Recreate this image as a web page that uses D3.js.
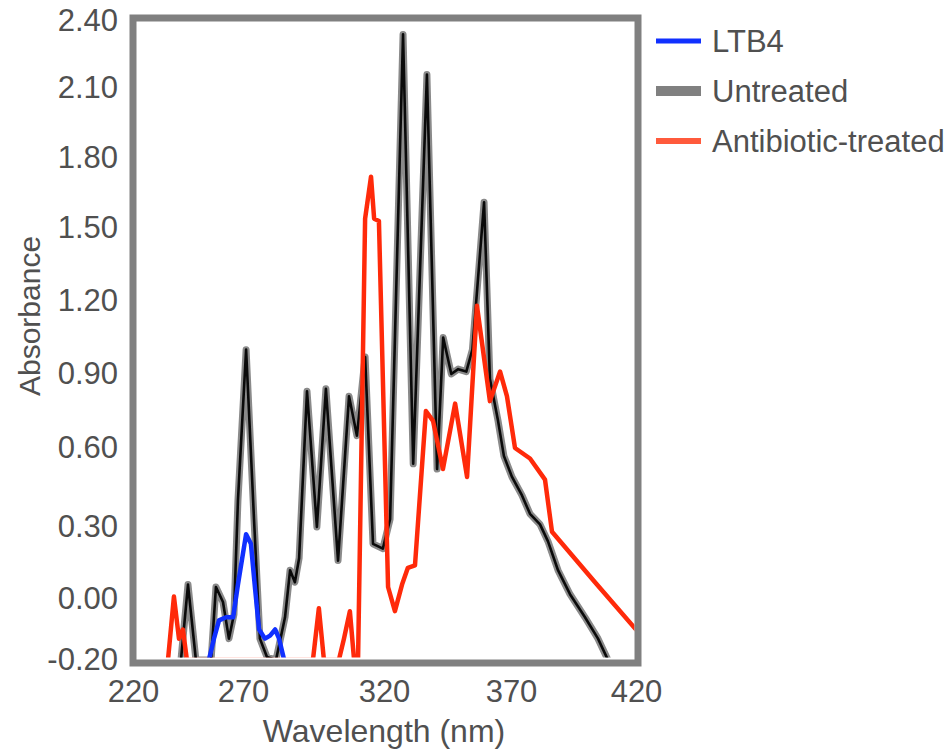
<!DOCTYPE html>
<html>
<head>
<meta charset="utf-8">
<script src="https://cdn.jsdelivr.net/npm/d3@7"></script>
<style>
  html, body { margin: 0; padding: 0; background: #ffffff; }
  svg { display: block; font-family: "Liberation Sans", Arial, sans-serif; }
</style>
</head>
<body>
<svg id="chart" width="945" height="750"></svg>
<script>
// Tick values for both axes
const wavelengthTicks = [220, 270, 320, 370, 420];
const absorbanceTicks = [-0.2, 0, 0.3, 0.6, 0.9, 1.2, 1.5, 1.8, 2.1, 2.4];

// Series names, in legend order
const seriesNames = ["LTB4", "Untreated", "Antibiotic-treated"];

// LTB4 spectrum
const ltb4Wavelength = [254.5, 256.8, 259.1, 262.3, 265.5, 267.7, 271.1, 272.8, 274.3, 275.7, 277.8, 279.6, 281.4, 282.8, 284.6];
const ltb4Absorbance = [-0.20, -0.13, -0.07, -0.06, -0.06, 0.06, 0.27, 0.23, 0.04, -0.10, -0.13, -0.12, -0.10, -0.13, -0.20];

// Untreated sample spectrum
const untreatedWavelength = [241.8, 245.0, 248.6, 255.5, 257.7, 260.9, 263.6, 265.9, 267.7, 271.1, 273.9, 276.0, 278.5, 281.7, 284.9, 286.7, 288.4, 289.9, 292.7, 296.2, 299.4, 303.7, 307.6, 310.4, 313.3, 316.1, 319.6, 322.4, 327.5, 331.5, 336.9, 340.9, 343.3, 346.5, 349.2, 352.4, 354.8, 359.4, 361.7, 364.9, 367.2, 370.4, 374.4, 377.6, 381.6, 384.8, 388.8, 393.6, 399.6, 404.8, 408.8];
const untreatedAbsorbance = [-0.20, 0.06, -0.20, -0.20, 0.05, -0.01, -0.13, -0.05, 0.40, 1.00, 0.33, -0.13, -0.19, -0.20, -0.06, 0.12, 0.07, 0.17, 0.83, 0.30, 0.84, 0.16, 0.81, 0.65, 0.97, 0.23, 0.21, 0.33, 2.34, 0.54, 2.16, 0.52, 1.05, 0.90, 0.92, 0.91, 1.00, 1.61, 0.88, 0.71, 0.57, 0.49, 0.42, 0.35, 0.31, 0.24, 0.12, 0.02, -0.06, -0.13, -0.20];

// Antibiotic-treated sample spectrum
const treatedWavelength = [235.9, 238.6, 240.9, 242.7, 244.5, 294.8, 296.9, 298.7, 304.0, 305.8, 307.9, 309.4, 310.8, 313.3, 315.4, 316.5, 318.2, 321.6, 324.3, 327.1, 329.4, 332.2, 336.5, 339.3, 343.2, 348.0, 352.7, 356.6, 361.7, 365.7, 368.4, 371.6, 377.6, 383.6, 386.4, 403.6, 420.0];
const treatedAbsorbance = [-0.20, 0.01, -0.13, -0.10, -0.20, -0.20, -0.03, -0.20, -0.20, -0.13, -0.04, -0.20, -0.20, 1.54, 1.72, 1.54, 1.53, 0.05, -0.04, 0.06, 0.13, 0.14, 0.75, 0.71, 0.52, 0.78, 0.49, 1.18, 0.79, 0.91, 0.81, 0.60, 0.56, 0.48, 0.28, 0.07, -0.10];

const svg = d3.select("#chart");

// Plot frame and tick anchor positions (pixels)
const frame = { left: 133, right: 638, top: 18, bottom: 663, stroke: 7 };
const xTickPx = [133, 243, 384, 511, 636];
const yTickPx = [660, 599, 527, 448, 374, 301, 228, 158, 88, 21];

const x = d3.scaleLinear().domain(wavelengthTicks).range(xTickPx);
const y = d3.scaleLinear().domain(absorbanceTicks).range(yTickPx);

const textColor = "#505050";
const fontSize = 31;

// Traces are clipped to the inside of the frame; the axis floor sits under the frame
const inner = frame.stroke / 2;
svg.append("defs").append("clipPath").attr("id", "plot-clip")
  .append("rect")
  .attr("x", frame.left + inner).attr("y", frame.top + inner)
  .attr("width", frame.right - frame.left - 2 * inner)
  .attr("height", y(-0.2) - 2.6 - (frame.top + inner));

const zip = (xs, ys) => xs.map((w, i) => ({ w, a: ys[i] }));

const series = [
  { name: seriesNames[1], data: zip(untreatedWavelength, untreatedAbsorbance), strokes: [["#8a8a8a", 7], ["#0a0a0a", 2.6]] },
  { name: seriesNames[2], data: zip(treatedWavelength, treatedAbsorbance), strokes: [["#ff2a0a", 4.5]] },
  { name: seriesNames[0], data: zip(ltb4Wavelength, ltb4Absorbance), strokes: [["#1030ff", 4.5]] }
];

const line = d3.line().x(d => x(d.w)).y(d => y(d.a));

const plot = svg.append("g").attr("clip-path", "url(#plot-clip)");
series.forEach(s => {
  s.strokes.forEach(([color, width]) => {
    plot.append("path")
      .datum(s.data)
      .attr("d", line)
      .attr("fill", "none")
      .attr("stroke", color)
      .attr("stroke-width", width)
      .attr("stroke-linejoin", "round")
      .attr("stroke-linecap", "round");
  });
});

// Frame around the plotting area
svg.append("rect")
  .attr("x", frame.left).attr("y", frame.top)
  .attr("width", frame.right - frame.left)
  .attr("height", frame.bottom - frame.top)
  .attr("fill", "none")
  .attr("stroke", "#808080")
  .attr("stroke-width", frame.stroke);

// Y axis
const yAxis = svg.append("g")
  .attr("transform", `translate(${frame.left},0)`)
  .call(d3.axisLeft(y).tickValues(absorbanceTicks).tickFormat(d => d.toFixed(2)).tickSize(0).tickPadding(15));
yAxis.select(".domain").remove();
yAxis.selectAll("text").attr("fill", textColor).attr("font-size", fontSize)
  .attr("font-family", "Liberation Sans, Arial, sans-serif");

// X axis
const xAxis = svg.append("g")
  .attr("transform", `translate(0,${y(-0.2)})`)
  .call(d3.axisBottom(x).tickValues(wavelengthTicks).tickFormat(d3.format("d")).tickSize(0).tickPadding(20));
xAxis.select(".domain").remove();
xAxis.selectAll("text").attr("fill", textColor).attr("font-size", fontSize)
  .attr("font-family", "Liberation Sans, Arial, sans-serif");

// Axis titles
svg.append("text")
  .attr("x", 384).attr("y", 742)
  .attr("text-anchor", "middle")
  .attr("fill", textColor).attr("font-size", 32)
  .text("Wavelength (nm)");

svg.append("text")
  .attr("transform", "translate(40,316) rotate(-90)")
  .attr("text-anchor", "middle")
  .attr("fill", textColor).attr("font-size", 30)
  .text("Absorbance");

// Legend
const legendItems = [
  { name: seriesNames[0], color: "#1030ff", width: 5 },
  { name: seriesNames[1], color: "#808080", width: 10 },
  { name: seriesNames[2], color: "#ff5a3c", width: 6 }
];
const legend = svg.append("g").attr("transform", "translate(656,41)");
legendItems.forEach((item, i) => {
  const g = legend.append("g").attr("transform", `translate(0,${i * 50})`);
  g.append("line")
    .attr("x1", 0).attr("x2", 45)
    .attr("y1", 0).attr("y2", 0)
    .attr("stroke", item.color)
    .attr("stroke-width", item.width);
  g.append("text")
    .attr("x", 56).attr("y", 0)
    .attr("dy", "0.35em")
    .attr("fill", textColor).attr("font-size", fontSize)
    .text(item.name);
});
</script>
</body>
</html>
